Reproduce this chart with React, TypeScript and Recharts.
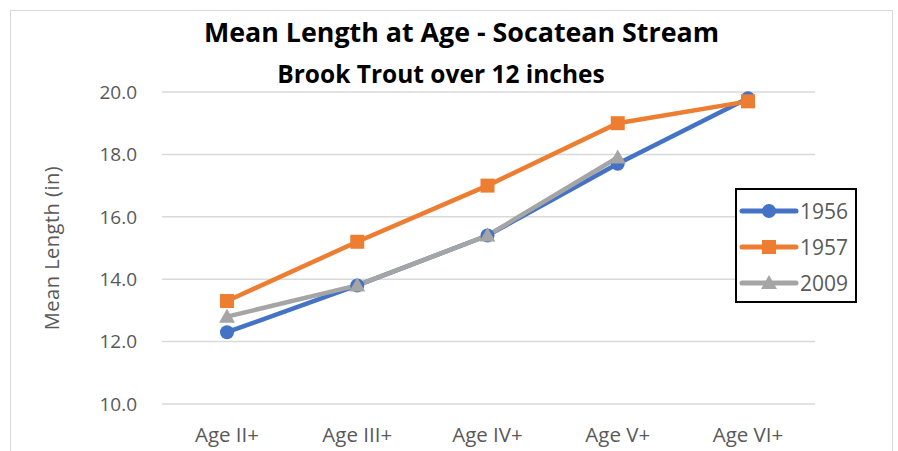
import { LineChart, Line, XAxis, YAxis, CartesianGrid } from 'recharts'

const ages = ['Age II+', 'Age III+', 'Age IV+', 'Age V+', 'Age VI+']
const len1956 = [12.3, 13.8, 15.4, 17.7, 19.8]
const len1957 = [13.3, 15.2, 17.0, 19.0, 19.7]
const len2009: (number | null)[] = [12.8, 13.8, 15.4, 17.9, null]
const yTicks = [10, 12, 14, 16, 18, 20]

const data = ages.map((age, i) => ({
  age,
  y1956: len1956[i],
  y1957: len1957[i],
  y2009: len2009[i],
}))

const font = '"Open Sans", Lato, sans-serif'
const grey = '#595959'

const series = [
  { key: 'y1956', name: '1956', color: '#4472C4', shape: 'circle' },
  { key: 'y1957', name: '1957', color: '#ED7D31', shape: 'square' },
  { key: 'y2009', name: '2009', color: '#A5A5A5', shape: 'triangle' },
]

function Marker({ shape, color, cx, cy }: { shape: string; color: string; cx: number; cy: number }) {
  if (shape === 'circle') return <circle cx={cx} cy={cy} r={7} fill={color} />
  if (shape === 'square') return <rect x={cx - 7} y={cy - 7} width={14} height={14} fill={color} />
  return <polygon points={`${cx},${cy - 8} ${cx + 8},${cy + 6} ${cx - 8},${cy + 6}`} fill={color} />
}

function makeDot(shape: string, color: string) {
  return (props: any) => {
    const { cx, cy, index } = props
    if (cx == null || cy == null || props.value == null) return <g key={index} />
    return <Marker key={index} shape={shape} color={color} cx={cx} cy={cy} />
  }
}

function LegendBox() {
  return (
    <div
      style={{
        position: 'absolute',
        left: 735,
        top: 188,
        border: '2px solid #000',
        background: '#fff',
        width: 122,
        height: 115,
        boxSizing: 'border-box',
        paddingTop: 3,
      }}
    >
      {series.map((s) => (
        <div key={s.key} style={{ display: 'flex', alignItems: 'center', height: 36 }}>
          <svg width={60} height={20} style={{ marginLeft: 2 }}>
            <line x1={3} y1={10} x2={57} y2={10} stroke={s.color} strokeWidth={5} strokeLinecap="round" />
            <Marker shape={s.shape} color={s.color} cx={30} cy={10} />
          </svg>
          <span style={{ fontFamily: font, fontSize: 21, color: grey, marginLeft: 1, lineHeight: '24px' }}>{s.name}</span>
        </div>
      ))}
    </div>
  )
}

export default function App() {
  return (
    <div style={{ position: 'absolute', left: 0, top: 0, width: 898, height: 451, background: '#fff', overflow: 'hidden' }}>
      <div
        style={{
          position: 'absolute',
          left: 10,
          top: 10,
          width: 883,
          height: 460,
          border: '1.5px solid #d9d9d9',
          boxSizing: 'border-box',
        }}
      />
      <div
        style={{
          position: 'absolute',
          left: 0,
          width: 923,
          top: 13,
          textAlign: 'center',
          fontFamily: font,
          fontWeight: 700,
          fontSize: 26.8,
          color: '#000',
        }}
      >
        Mean Length at Age - Socatean Stream
      </div>
      <div
        style={{
          position: 'absolute',
          left: 0,
          width: 882,
          top: 57,
          textAlign: 'center',
          fontFamily: font,
          fontWeight: 700,
          fontSize: 24.5,
          color: '#000',
        }}
      >
        Brook Trout over 12 inches
      </div>
      <div style={{ position: 'absolute', left: 0, top: 0 }}>
        <LineChart width={898} height={451} data={data} margin={{ top: 92, right: 83, bottom: 7, left: 42 }}>
          <CartesianGrid vertical={false} stroke="#d9d9d9" strokeWidth={1.5} />
          <XAxis
            dataKey="age"
            axisLine={false}
            tickLine={false}
            tickSize={0}
            tickMargin={23}
            height={40}
            padding={{ left: 65, right: 67 }}
            tick={{ fill: grey, fontSize: 20.5, fontFamily: font }}
          />
          <YAxis
            domain={[10, 20]}
            ticks={yTicks}
            width={120}
            axisLine={false}
            tickLine={false}
            tickSize={0}
            tickMargin={25}
            tickFormatter={(v: number) => v.toFixed(1)}
            tick={{ fill: grey, fontSize: 19, fontFamily: font }}
            label={{
              value: 'Mean Length (in)',
              angle: -90,
              position: 'insideLeft',
              offset: 10,
              style: { fill: grey, fontSize: 20, fontFamily: font, letterSpacing: 0.5, textAnchor: 'middle' },
            }}
          />
          {series.map((s) => (
            <Line
              key={s.key}
              dataKey={s.key}
              name={s.name}
              stroke={s.color}
              strokeWidth={4.5}
              dot={makeDot(s.shape, s.color)}
              activeDot={false}
              isAnimationActive={false}
              connectNulls={false}
            />
          ))}
        </LineChart>
      </div>
      <LegendBox />
    </div>
  )
}
